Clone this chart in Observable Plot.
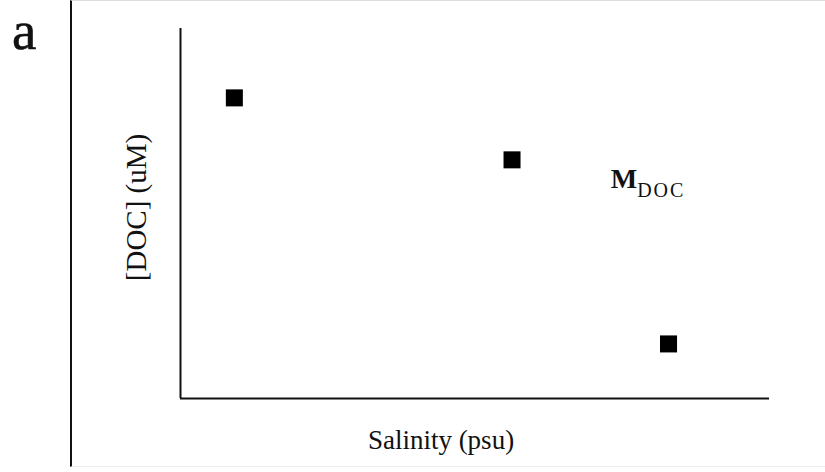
<!DOCTYPE html>
<html>
<head>
<meta charset="utf-8">
<script src="https://cdn.jsdelivr.net/npm/d3@7"></script>
<script src="https://cdn.jsdelivr.net/npm/@observablehq/plot@0.6"></script>
<style>
  html, body { margin: 0; padding: 0; background: #fff; }
  #wrap { position: relative; width: 825px; height: 472px; overflow: hidden; font-family: "Liberation Serif", "DejaVu Serif", serif; }
  #border { position: absolute; left: 70px; top: 0; width: 760px; height: 465px; border-left: 2px solid #111; border-top: 1px solid #ddd; border-bottom: 1px solid #eee; }
  #panel { position: absolute; left: 12px; top: 3px; font-size: 55px; line-height: 1; color: #111; font-family: "Liberation Serif", serif; -webkit-text-stroke: 0.6px #111; }
  #chart { position: absolute; left: 0; top: 0; }
  #chart text { font-family: "Liberation Serif", serif; }
</style>
</head>
<body>
<div id="wrap">
  <div id="border"></div>
  <div id="panel">a</div>
  <div id="chart"></div>
</div>
<script>
const salinity = [3.2, 19.7, 29.0];
const doc = [325, 258, 59];
const xLabel = "Salinity (psu)";
const yLabel = "[DOC] (uM)";
const annotation = {x: 29.0, y: 232};

const data = salinity.map((s, i) => ({salinity: s, doc: doc[i]}));

const chart = Plot.plot({
  width: 825,
  height: 472,
  marginLeft: 180,
  marginRight: 56,
  marginTop: 28,
  marginBottom: 74,
  style: {background: "transparent", fontFamily: "Liberation Serif, serif"},
  x: {domain: [0, 35], axis: null},
  y: {domain: [0, 400], axis: null},
  marks: [
    Plot.ruleX([0], {stroke: "#111", strokeWidth: 2}),
    Plot.ruleY([0], {stroke: "#111", strokeWidth: 2}),
    Plot.dot(data, {x: "salinity", y: "doc", symbol: "square", r: 9.6, fill: "#000", stroke: "none"}),
    Plot.text([xLabel], {frameAnchor: "bottom", lineAnchor: "bottom", textAnchor: "middle", dx: -34, dy: 50, fontSize: 27, fontFamily: "Liberation Serif", fill: "#111", text: d => d}),
    Plot.text([yLabel], {frameAnchor: "left", lineAnchor: "bottom", textAnchor: "middle", dx: -35, dy: -6, rotate: -90, fontSize: 29, fontFamily: "Liberation Serif", fill: "#111", text: d => d})
  ]
});
document.getElementById("chart").appendChild(chart);

// M_DOC annotation with subscript, positioned via the plot's scales
const sx = chart.scale("x"), sy = chart.scale("y");
const svg = d3.select(chart);
const t = svg.append("text")
  .attr("x", sx.apply(annotation.x) - 20)
  .attr("y", sy.apply(annotation.y) + 5)
  .attr("font-family", "Liberation Serif, serif")
  .attr("fill", "#111");
t.append("tspan").attr("font-size", 28).attr("font-weight", "bold").text("M");
t.append("tspan").attr("font-size", 20).attr("dy", 9).attr("letter-spacing", 2).text("DOC");
</script>
</body>
</html>
